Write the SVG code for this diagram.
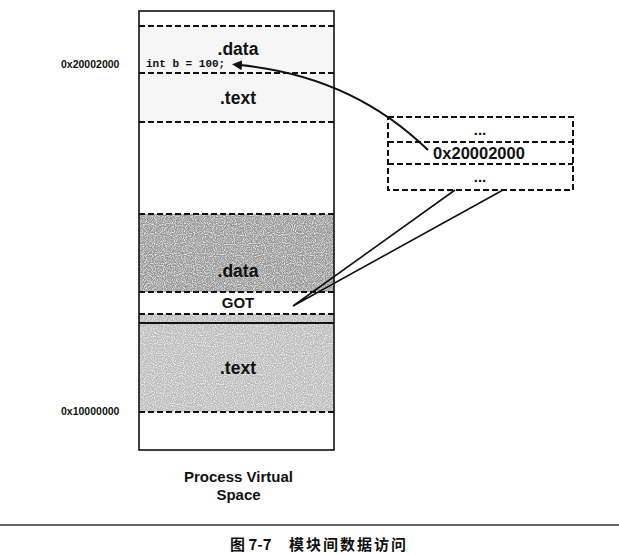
<svg xmlns="http://www.w3.org/2000/svg" width="619" height="554" viewBox="0 0 619 554">
<style>
.lbl{font-family:"Liberation Sans",Arial,sans-serif;font-weight:bold;fill:#111;}
.sec{font-size:17.5px;text-anchor:middle;}
.dash{stroke:#111;stroke-width:2;stroke-dasharray:6 3;fill:none;}
.solid{stroke:#111;stroke-width:1.6;fill:none;}
.conn{stroke:#111;stroke-width:1.6;fill:none;}
</style>
<defs>
<marker id="arr" viewBox="0 0 10 10" refX="2" refY="5" markerWidth="5" markerHeight="5" orient="auto" markerUnits="strokeWidth">
<path d="M0,0 L10,5 L0,10 z" fill="#111"/>
</marker>
<filter id="speck" x="0" y="0" width="100%" height="100%">
<feTurbulence type="fractalNoise" baseFrequency="0.9" numOctaves="1" seed="3" result="n"/>
<feColorMatrix in="n" type="matrix" values="0 0 0 0 1  0 0 0 0 1  0 0 0 0 1  0 0 0 -2.2 1.25" result="w"/>
<feComposite in="w" in2="SourceGraphic" operator="in" result="wm"/>
<feMerge><feMergeNode in="SourceGraphic"/><feMergeNode in="wm"/></feMerge>
</filter>
</defs>
<rect width="619" height="554" fill="#fff"/>

<g id="process-space">
<rect x="139" y="26" width="195" height="96" fill="#f6f6f6"/>
<rect x="139" y="214" width="195" height="78" fill="#999" filter="url(#speck)"/>
<rect x="139" y="314" width="195" height="98" fill="#bcbcbc" filter="url(#speck)"/>
<line class="dash" x1="139" y1="26" x2="334" y2="26"/>
<line class="dash" x1="139" y1="73" x2="334" y2="73"/>
<line class="dash" x1="139" y1="122" x2="334" y2="122"/>
<line class="dash" x1="139" y1="214" x2="334" y2="214"/>
<line class="dash" x1="139" y1="292" x2="334" y2="292"/>
<line class="dash" x1="139" y1="314" x2="334" y2="314"/>
<line class="solid" x1="139" y1="323" x2="334" y2="323" style="stroke-width:2"/>
<line class="dash" x1="139" y1="412" x2="334" y2="412"/>
<rect class="solid" x="139" y="11" width="195" height="439"/>
<text class="lbl sec" x="238" y="55">.data</text>
<text x="146" y="67" style="font-family:'Liberation Mono','Courier New',monospace;font-weight:bold;font-size:11px;fill:#111">int b = 100;</text>
<text class="lbl sec" x="238" y="104">.text</text>
<text class="lbl sec" x="238" y="277">.data</text>
<text class="lbl" x="238" y="308" style="font-size:15px;text-anchor:middle">GOT</text>
<text class="lbl sec" x="238" y="374">.text</text>
</g>

<g id="addr-labels">
<text class="lbl" x="61" y="68" style="font-size:10.5px">0x20002000</text>
<text class="lbl" x="61" y="415" style="font-size:10.5px">0x10000000</text>
</g>

<g id="got-table">
<rect class="dash" x="388" y="117" width="185" height="73"/>
<line class="dash" x1="388" y1="142" x2="573" y2="142"/>
<line class="dash" x1="388" y1="164" x2="573" y2="164"/>
<text class="lbl" x="480" y="135" style="font-size:15px;text-anchor:middle">...</text>
<text class="lbl" x="479" y="159" style="font-size:16.5px;text-anchor:middle">0x20002000</text>
<text class="lbl" x="480" y="182" style="font-size:15px;text-anchor:middle">...</text>
</g>

<g id="connectors">
<path class="conn" d="M428,150 Q352,76 240,65" style="stroke-width:2" marker-end="url(#arr)"/>
<path class="conn" d="M455,190 L293,306 L503,190"/>
</g>

<g id="caption">
<text class="lbl" x="238.5" y="482" style="font-size:15px;text-anchor:middle">Process Virtual</text>
<text class="lbl" x="238.5" y="500" style="font-size:15px;text-anchor:middle">Space</text>
<line x1="0" y1="525" x2="619" y2="525" stroke="#333" stroke-width="1.5"/>
<text x="230" y="550" style="font-family:'Noto Sans CJK SC','Noto Sans',sans-serif;font-weight:bold;font-size:15px;fill:#111">图 7-7</text>
<text x="289" y="550" style="font-family:'Noto Sans CJK SC',sans-serif;font-weight:bold;font-size:15px;letter-spacing:2px;fill:#111">模块间数据访问</text>
</g>
</svg>
